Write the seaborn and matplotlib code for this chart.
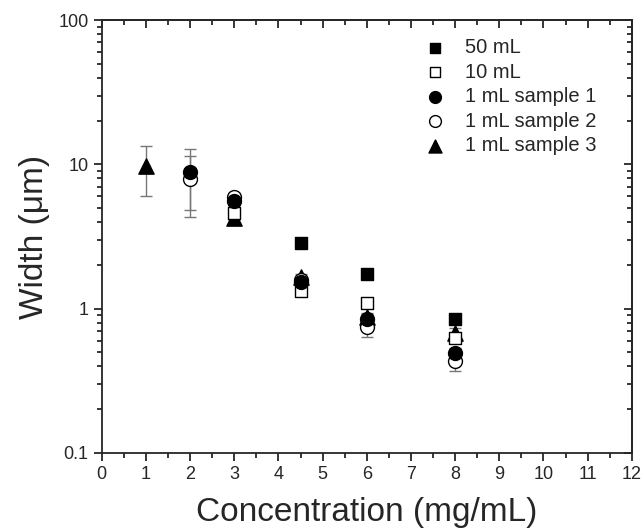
import numpy as np
import pandas as pd
import matplotlib
matplotlib.use("Agg")
import matplotlib.pyplot as plt
import seaborn as sns
from matplotlib.ticker import LogLocator, NullFormatter, MultipleLocator, FixedLocator, FixedFormatter

# datos
x_50 = [4.5, 6, 8]
w_50 = [2.84, 1.75, 0.85]

x_10 = [3, 4.5, 6, 8]
w_10 = [4.6, 1.33, 1.10, 0.63]

x_s1 = [2, 3, 4.5, 6, 8]
w_s1 = [8.8, 5.6, 1.52, 0.85, 0.49]
e_s1 = [4.0, 0.35, 0.10, 0.06, 0.04]

x_s2 = [2, 3, 4.5, 6, 8]
w_s2 = [7.9, 5.9, 1.58, 0.74, 0.43]
e_s2 = [3.6, 0.40, 0.10, 0.10, 0.06]

x_s3 = [1, 3, 4.5, 6, 8]
w_s3 = [9.7, 4.25, 1.65, 0.88, 0.68]
e_s3 = [3.7, 0.15, 0.10, 0.05, 0.05]

labels = ["50 mL", "10 mL", "1 mL sample 1", "1 mL sample 2", "1 mL sample 3"]

sns.set_style("ticks")
plt.rcParams["font.family"] = ["Liberation Sans", "DejaVu Sans"]

fig = plt.figure(figsize=(6.44, 5.29), dpi=100)
ax = fig.add_axes([0.158, 0.144, 0.823, 0.818])

# barras de error (gris)
for xs, ws, es in [(x_s1, w_s1, e_s1), (x_s2, w_s2, e_s2), (x_s3, w_s3, e_s3)]:
    ax.errorbar(xs, ws, yerr=es, fmt="none", ecolor="#777777", elinewidth=1,
                capsize=4, capthick=1, zorder=1)

# (x, y, marcador, relleno, tamaño, orden de dibujo)
series = [
    (x_50, w_50, "s", "black", 8.5, 7),
    (x_10, w_10, "s", "white", 8.5, 4),
    (x_s1, w_s1, "o", "black", 10, 6),
    (x_s2, w_s2, "o", "white", 10, 5),
    (x_s3, w_s3, "^", "black", 11, 3),
]
for (xs, ws, mk, fc, ms, zo), lab in zip(series, labels):
    df = pd.DataFrame({"conc": xs, "width": ws})
    sns.scatterplot(data=df, x="conc", y="width", marker=mk, s=ms ** 2,
                    facecolor=fc, edgecolor="black", linewidth=1,
                    label=lab, ax=ax, zorder=zo)

ax.set_yscale("log")
ax.set_xlim(0, 12)
ax.set_ylim(0.1, 100)
ax.xaxis.set_major_locator(MultipleLocator(1))
ax.xaxis.set_minor_locator(MultipleLocator(0.5))
ax.yaxis.set_major_locator(FixedLocator([0.1, 1, 10, 100]))
ax.yaxis.set_major_formatter(FixedFormatter(["0.1", "1", "10", "100"]))
ax.yaxis.set_minor_locator(LogLocator(base=10, subs=np.arange(2, 10)))
ax.yaxis.set_minor_formatter(NullFormatter())
ax.tick_params(which="major", direction="out", length=6, width=1.3, labelsize=13,
               top=False, right=False)
ax.tick_params(which="minor", direction="out", length=3.5, width=1.3,
               top=False, right=False)
for sp in ax.spines.values():
    sp.set_linewidth(1.3)

# ejes espejo con ticks hacia dentro
top = ax.secondary_xaxis("top")
top.xaxis.set_major_locator(MultipleLocator(1))
top.xaxis.set_minor_locator(MultipleLocator(0.5))
top.tick_params(which="major", direction="in", length=6, width=1.3, labeltop=False)
top.tick_params(which="minor", direction="in", length=3.5, width=1.3)
top.spines["top"].set_linewidth(1.3)
right = ax.secondary_yaxis("right")
right.yaxis.set_major_locator(FixedLocator([0.1, 1, 10, 100]))
right.yaxis.set_minor_locator(LogLocator(base=10, subs=np.arange(2, 10)))
right.tick_params(which="major", direction="in", length=6, width=1.3, labelright=False)
right.tick_params(which="minor", direction="in", length=3.5, width=1.3, labelright=False)
right.spines["right"].set_linewidth(1.3)

ax.set_xlabel("Concentration (mg/mL)", fontsize=24, labelpad=10)
ax.set_ylabel("Width (\u03bcm)", fontsize=24, labelpad=6)

ax.legend(loc="upper right", bbox_to_anchor=(0.968, 1.0), frameon=False, fontsize=14.5,
          handletextpad=0.5, labelspacing=0.27, markerscale=0.85)

fig.savefig("out.png", dpi=100)
